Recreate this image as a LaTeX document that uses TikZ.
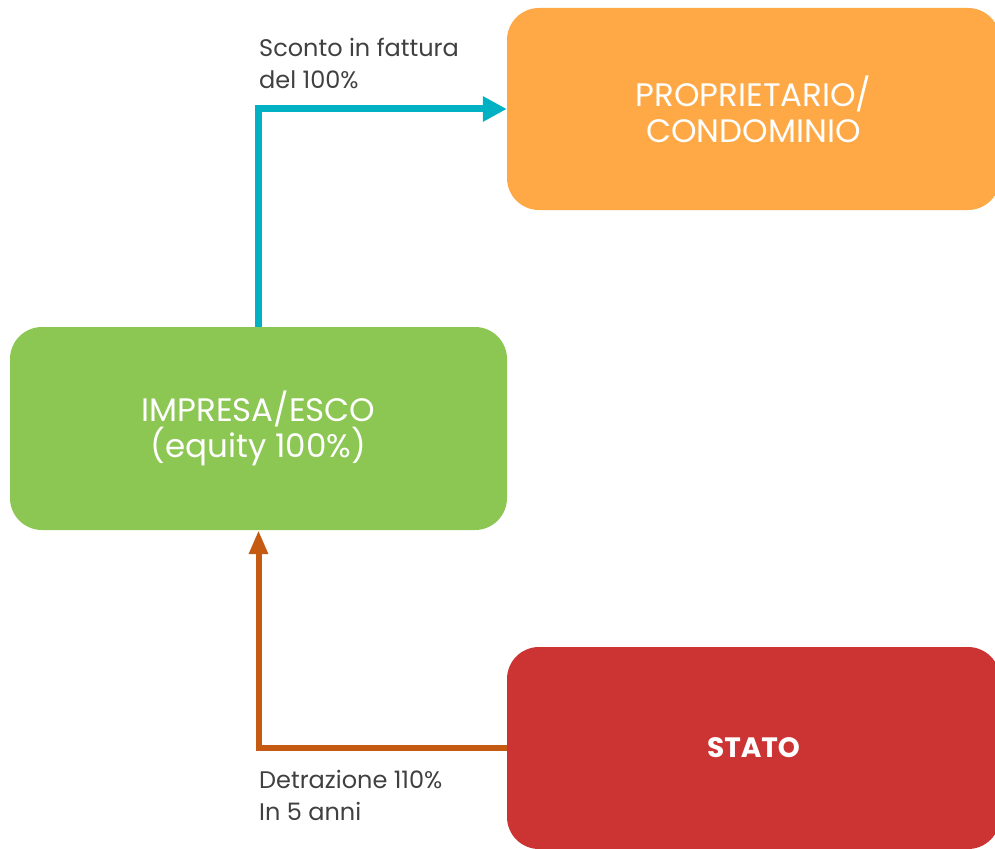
\documentclass[tikz,border=0pt]{standalone}
\usepackage{fontspec}
\setmainfont{Poppins}
\usetikzlibrary{arrows.meta}
\definecolor{cOrange}{HTML}{FEA946}
\definecolor{cGreen}{HTML}{8CC653}
\definecolor{cRed}{HTML}{CC3434}
\definecolor{cCyan}{HTML}{00B1C3}
\definecolor{cBrown}{HTML}{C55A13}
\definecolor{cText}{HTML}{404040}
\tikzset{
  box/.style={fill=#1, draw=none, rounded corners=32pt, minimum width=493pt, minimum height=202pt,
    text=white, align=center, inner sep=0pt},
  boxtext/.style={font=\fontsize{32.5}{36}\selectfont},
  lbl/.style={text=cText, align=left, anchor=west, inner sep=0pt, font=\fontsize{24}{32}\selectfont},
  cyanarrow/.style={draw=cCyan, line width=7pt, -{Triangle[length=24pt,width=24pt]}},
  brownarrow/.style={draw=cBrown, line width=6pt, -{Triangle[length=24pt,width=18pt]}}
}
\begin{document}
\begin{tikzpicture}[x=1pt,y=-1pt]
\useasboundingbox (0,0) rectangle (995,848);
\node[box=cOrange, boxtext] (prop) at (753.5,109) {PROPRIETARIO/\\CONDOMINIO};
\node[box=cGreen, boxtext, minimum width=497pt, minimum height=203pt] (imp) at (258.5,428.5) {IMPRESA/ESCO\\(equity 100\%)};
\node[box=cRed, font=\fontsize{28}{34}\selectfont\bfseries] (stato) at (753.5,748) {STATO};
\draw[cyanarrow] (imp.north) |- (prop.west);
\draw[brownarrow] (stato.west) -| (imp.south);
\node[lbl] (l1) at (259,63) {Sconto in fattura\\del 100\%};
\node[lbl] (l2) at (259,795) {Detrazione 110\%\\In 5 anni};
\end{tikzpicture}
\end{document}
